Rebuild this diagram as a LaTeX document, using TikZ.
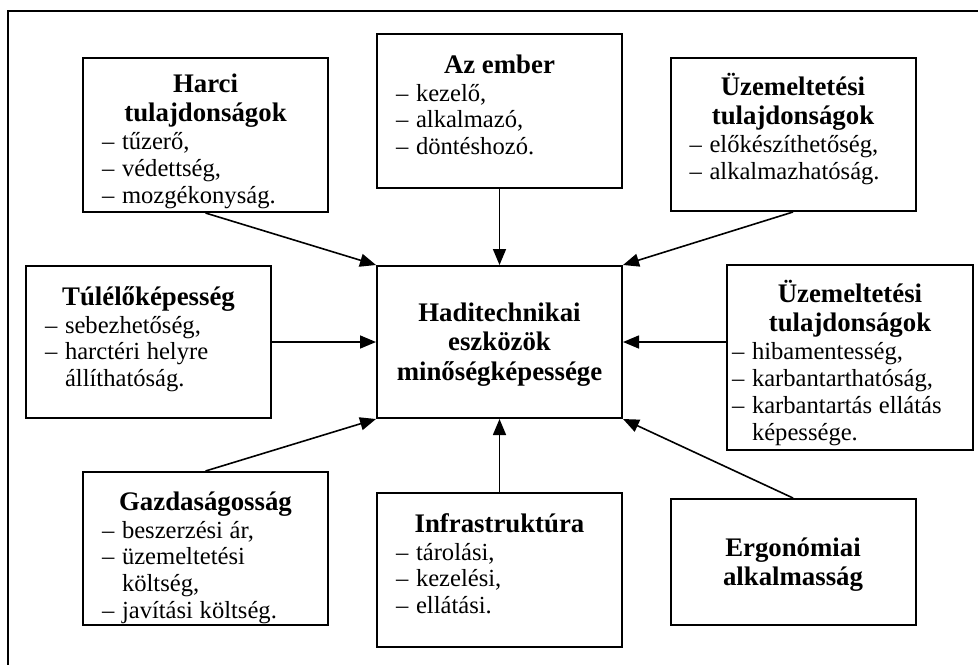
\documentclass[tikz,border=0pt]{standalone}
\usepackage{fontspec}
\setmainfont{Liberation Serif}
\usepackage{tikz}
\usetikzlibrary{arrows.meta}

\newcommand{\boxtitle}[1]{{\centering\fontsize{13.4pt}{14.8pt}\bfseries #1\par}\vskip0.6pt}
\newcommand{\boxitem}[1]{{\fontsize{12.3pt}{13.4pt}\selectfont\noindent\hangindent=10pt\hangafter=1\makebox[10pt][l]{--}#1\par}}

\begin{document}
\begin{tikzpicture}[x=0.5pt,y=-0.5pt,
	qbox/.style={draw,line width=1pt,inner xsep=9.5pt,inner ysep=0pt,
		minimum width=122.5pt,text width=103.5pt,align=left},
	>={Triangle[length=8pt,width=6.5pt]}]
		\useasboundingbox (0,0) rectangle (978,665);
		\draw[line width=1pt] (978,11) -- (8,11) -- (8,665);
		%
		\node[qbox,text height=27.5pt,text depth=48.5pt] (center) at (499.5,342)
			{\boxtitle{Haditechnikai\\eszközök\\minőségképessége}};
		\node[qbox,text height=17pt,text depth=60pt] (harci) at (205.5,135)
			{\boxtitle{Harci\\tulajdonságok}\boxitem{tűzerő,}\boxitem{védettség,}\boxitem{mozgékonyság.}};
		\node[qbox,text height=19.5pt,text depth=57.5pt] (ember) at (499.5,111)
			{\boxtitle{Az ember}\boxitem{kezelő,}\boxitem{alkalmazó,}\boxitem{döntéshozó.}};
		\node[qbox,text height=18.5pt,text depth=58pt] (uzem1) at (793,134.5)
			{\boxtitle{Üzemeltetési\\tulajdonságok}\boxitem{előkészíthetőség,}\boxitem{alkalmazhatóság.}};
		\node[qbox,text height=19.5pt,text depth=56.5pt] (tulelo) at (148.5,342)
			{\boxtitle{Túlélőképesség}\boxitem{sebezhetőség,}\boxitem{harctéri helyre\newline állíthatóság.}};
		\node[qbox,text height=18.5pt,text depth=74pt,inner xsep=2.5pt,text width=118pt] (uzem2) at (850,357.5)
			{\boxtitle{Üzemeltetési\\tulajdonságok}\boxitem{hibamentesség,}\boxitem{karbantarthatóság,}\boxitem{karbantartás ellátás\newline képessége.}};
		\node[qbox,text height=19pt,text depth=57.5pt] (gazd) at (205.5,548.5)
			{\boxtitle{Gazdaságosság}\boxitem{beszerzési ár,}\boxitem{üzemeltetési\newline költség,}\boxitem{javítási költség.}};
		\node[qbox,text height=19.5pt,text depth=57.5pt] (infra) at (499.5,570)
			{\boxtitle{Infrastruktúra}\boxitem{tárolási,}\boxitem{kezelési,}\boxitem{ellátási.}};
		\node[qbox,text height=28.5pt,text depth=34.5pt] (ergo) at (793,562)
			{\boxtitle{Ergonómiai\\alkalmasság}};
		%
		\path[->,line width=0.8pt]
		(harci.south) edge (center.north west)
		(ember.south) edge (center.north)
		(uzem1.south) edge (center.north east)
		(tulelo.east) edge (center.west)
		(uzem2.west |- center.east) edge (center.east)
		(gazd.north) edge (center.south west)
		(infra.north) edge (center.south)
		(ergo.north) edge (center.south east);
\end{tikzpicture}
\end{document}
